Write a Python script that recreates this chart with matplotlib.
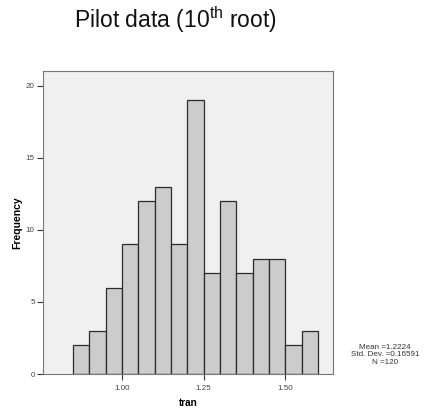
import numpy as np
import matplotlib
matplotlib.use("Agg")
import matplotlib.pyplot as plt

plt.rcParams['font.family'] = ['Liberation Sans', 'DejaVu Sans']
plt.rcParams['mathtext.fontset'] = 'custom'
plt.rcParams['mathtext.rm'] = 'Liberation Sans'

# histogram of the transformed variable (bin edges 0.85 .. 1.60, width 0.05)
bin_edges = [0.85, 0.90, 0.95, 1.00, 1.05, 1.10, 1.15, 1.20, 1.25,
             1.30, 1.35, 1.40, 1.45, 1.50, 1.55, 1.60]
counts = [2, 3, 6, 9, 12, 13, 9, 19, 7, 12, 7, 8, 8, 2, 3]
xticks = [1.00, 1.25, 1.50]
yticks = [0, 5, 10, 15, 20]
stats_txt = "Mean =1.2224\nStd. Dev. =0.16591\nN =120"

fig = plt.figure(figsize=(4.25, 4.08), dpi=100)
ax = fig.add_axes([0.1012, 0.0833, 0.682, 0.743])
ax.set_facecolor('#f0f0f0')

lefts = np.array(bin_edges[:-1])
widths = np.diff(bin_edges)
ax.bar(lefts, counts, width=widths, align='edge', color='#cccccc',
       edgecolor='#2b2b2b', linewidth=0.9)

ax.set_xlim(0.758, 1.646)
ax.set_ylim(0, 21.04)
ax.set_xticks(xticks)
ax.set_xticklabels(['%.2f' % v for v in xticks])
ax.set_yticks(yticks)
ax.tick_params(labelsize=5.8, length=4, width=0.8, color='#333333',
               labelcolor='#444444')
ax.tick_params(axis='x', pad=4)
ax.tick_params(axis='y', pad=2)
for s in ax.spines.values():
    s.set_color('#777777')
    s.set_linewidth(0.8)

ax.set_xlabel('tran', fontsize=7.2, fontweight='bold')
ax.set_ylabel('Frequency', fontsize=7.5, fontweight='bold')
ax.xaxis.set_label_coords(0.5, -0.078)
ax.yaxis.set_label_coords(-0.07, 0.5)

fig.text(0.412, 0.931, r'Pilot data (10$^{\mathrm{th}}$ root)', fontsize=16.5,
         ha='center', va='baseline', color='#111111')
fig.text(0.906, 0.13, stats_txt, fontsize=5.8, ha='center', va='center',
         linespacing=1.1, color='#333333')

fig.savefig('out.png', dpi=100)
